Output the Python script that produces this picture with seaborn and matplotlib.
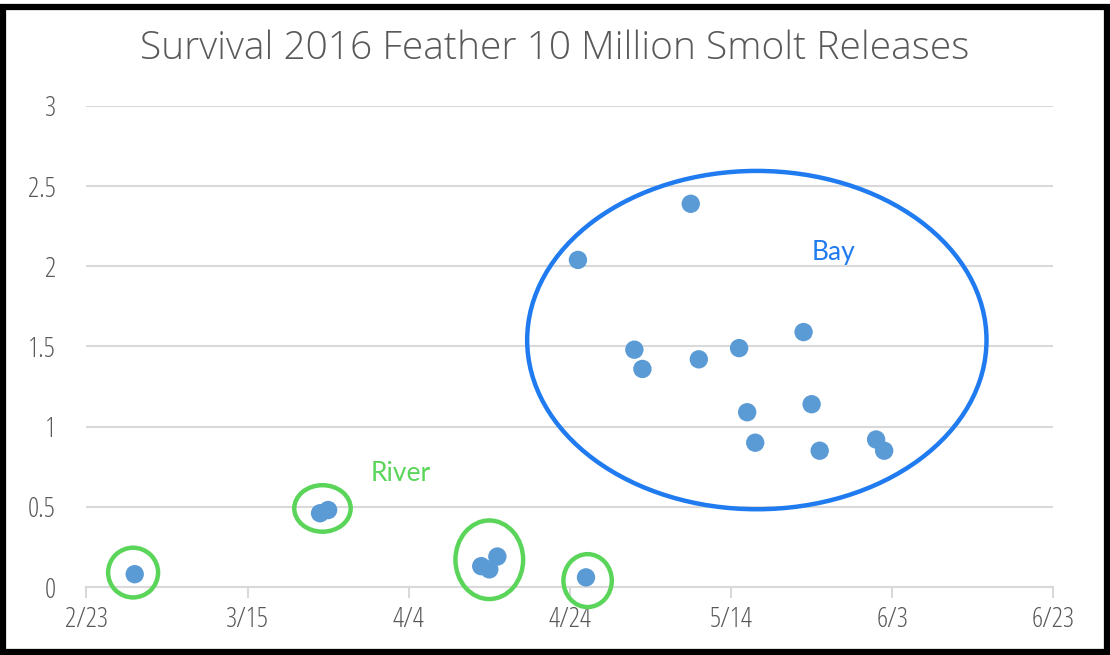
import pandas as pd
import matplotlib.pyplot as plt
import matplotlib.dates as mdates
from matplotlib.patches import Ellipse, Rectangle
import seaborn as sns

# Release dates (non-leap calendar so 20-day ticks land on 2/23 ... 6/23)
river_dates = ["3/1", "3/24", "3/25", "4/13", "4/14", "4/15", "4/26"]
river_survival = [0.08, 0.46, 0.48, 0.13, 0.11, 0.19, 0.06]

bay_dates = ["4/25", "5/2", "5/3", "5/9", "5/10", "5/15", "5/16", "5/17",
             "5/23", "5/24", "5/25", "6/1", "6/2"]
bay_survival = [2.04, 1.48, 1.36, 2.39, 1.42, 1.49, 1.09, 0.90,
                1.59, 1.14, 0.85, 0.92, 0.85]

x_ticks = ["2/23", "3/15", "4/4", "4/24", "5/14", "6/3", "6/23"]
y_ticks = [0, 0.5, 1, 1.5, 2, 2.5, 3]

YEAR = 2015


def to_date(s):
    return pd.to_datetime(f"{YEAR}/{s}", format="%Y/%m/%d")


df = pd.DataFrame({
    "Date": [to_date(d) for d in river_dates + bay_dates],
    "Survival": river_survival + bay_survival,
})

sns.set_style("white")
plt.rcParams["font.family"] = ["Open Sans", "DejaVu Sans"]

fig = plt.figure(figsize=(11.1, 6.55), dpi=100)
ax = fig.add_axes([0.0778, 0.1038, 0.8712, 0.7344])

sns.scatterplot(data=df, x="Date", y="Survival", ax=ax, s=175,
                color="#5B9BD5", edgecolor="none", zorder=3)

tick_dates = [to_date(t) for t in x_ticks]
ax.set_xlim(tick_dates[0], tick_dates[-1])
ax.set_ylim(0, 3)
ax.set_xticks(tick_dates)
ax.set_xticklabels(x_ticks)
ax.set_yticks(y_ticks)
ax.set_yticklabels([f"{v:g}" for v in y_ticks])
ax.set_xlabel("")
ax.set_ylabel("")

ax.grid(axis="y", color="#D9D9D9", linewidth=1.5)
for side in ["top", "right", "left"]:
    ax.spines[side].set_visible(False)
ax.spines["bottom"].set_color("#D9D9D9")
ax.spines["bottom"].set_linewidth(1.5)
ax.tick_params(axis="x", which="major", direction="out", length=8, width=1.5,
               color="#D9D9D9", labelsize=20, labelcolor="#595959", pad=6, bottom=True)
ax.tick_params(axis="y", length=0, labelsize=20, labelcolor="#595959", pad=22)
for lbl in ax.get_xticklabels() + ax.get_yticklabels():
    lbl.set_fontstretch("condensed")

fig.suptitle("Survival 2016 Feather 10 Million Smolt Releases", y=0.955,
             fontsize=28, color="#595959", fontweight="light")

# hand-drawn annotation overlays
def dnum(s):
    return mdates.date2num(to_date(s))

bay_blue = "#1F7BEF"
river_green = "#5AD55A"
ax.add_patch(Ellipse((dnum("5/17") + 0.2, 1.54), 57, 2.11, fill=False,
                     edgecolor=bay_blue, linewidth=3.2, clip_on=False, zorder=4))
for cx, cy, w, h in [(dnum("3/1") - 0.2, 0.09, 6.2, 0.31),
                     (dnum("3/24") + 0.3, 0.49, 7.0, 0.29),
                     (dnum("4/14"), 0.17, 8.4, 0.49),
                     (dnum("4/26") + 0.2, 0.04, 6.0, 0.33)]:
    ax.add_patch(Ellipse((cx, cy), w, h, fill=False, edgecolor=river_green,
                         linewidth=3.2, clip_on=False, zorder=4))

ax.text(dnum("5/24"), 2.04, "Bay", color=bay_blue, fontsize=19,
        family=["Lato", "DejaVu Sans"], fontweight="normal")
ax.text(dnum("4/3"), 0.66, "River", color=river_green, fontsize=19,
        family=["Lato", "DejaVu Sans"], fontweight="normal", ha="center")

# black frame around the whole picture
fig.patches.append(Rectangle((0.003, 0.005), 0.994, 0.985, transform=fig.transFigure,
                             fill=False, edgecolor="black", linewidth=4.5))

fig.savefig("out.png", dpi=100, facecolor="white")
